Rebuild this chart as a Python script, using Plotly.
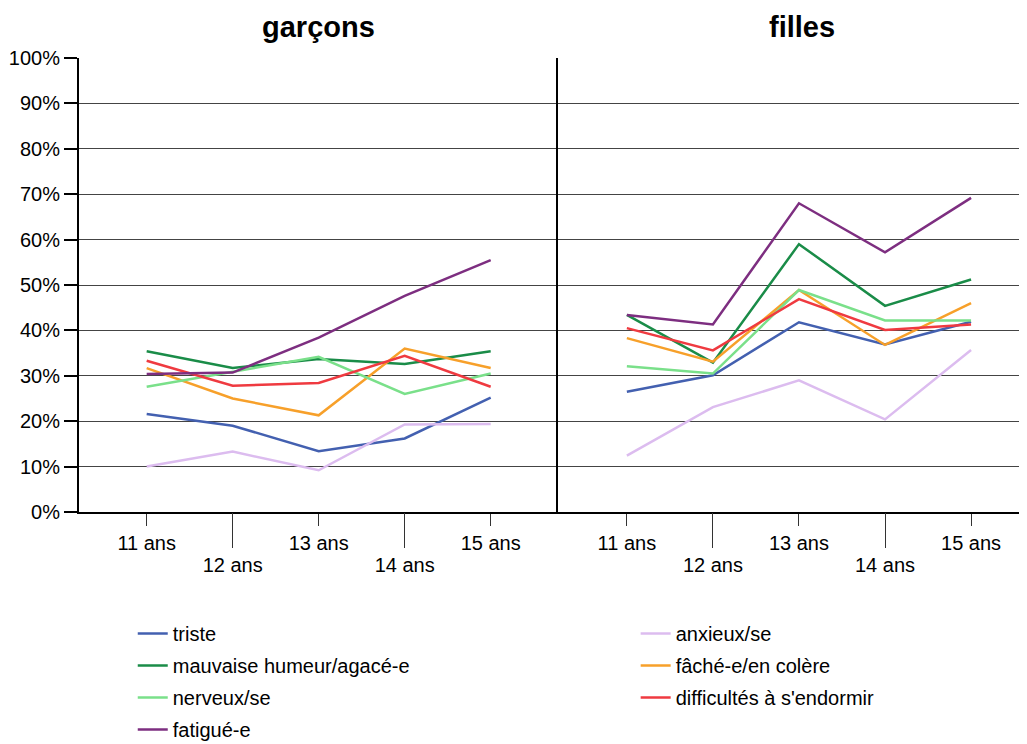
from plotly import graph_objects as go

ages = ["11 ans", "12 ans", "13 ans", "14 ans", "15 ans"]
panels = ["garçons", "filles"]
labels = ["triste", "anxieux/se", "mauvaise humeur/agacé-e", "fâché-e/en colère",
          "nerveux/se", "difficultés à s'endormir", "fatigué-e"]
colors = ["#4360b0", "#dcbcef", "#1a8c48", "#f7a02a", "#7ae08a", "#ef3a40", "#7d2e80"]

# garçons, % par âge
garcons_triste = [21.6, 19.0, 13.4, 16.2, 25.2]
garcons_anxieux = [10.0, 13.3, 9.2, 19.3, 19.4]
garcons_mauvaise = [35.4, 31.7, 33.7, 32.6, 35.4]
garcons_fache = [31.7, 25.0, 21.3, 36.0, 31.7]
garcons_nerveux = [27.6, 30.9, 34.2, 26.0, 30.5]
garcons_difficultes = [33.3, 27.8, 28.4, 34.4, 27.6]
garcons_fatigue = [30.4, 30.7, 38.4, 47.6, 55.5]

# filles, % par âge
filles_triste = [26.5, 30.1, 41.8, 36.9, 41.9]
filles_anxieux = [12.4, 23.1, 29.0, 20.4, 35.7]
filles_mauvaise = [43.4, 32.9, 59.0, 45.4, 51.2]
filles_fache = [38.3, 33.1, 48.9, 36.8, 46.0]
filles_nerveux = [32.1, 30.5, 48.9, 42.2, 42.2]
filles_difficultes = [40.5, 35.6, 46.9, 40.1, 41.3]
filles_fatigue = [43.4, 41.3, 68.0, 57.2, 69.2]

garcons = [garcons_triste, garcons_anxieux, garcons_mauvaise, garcons_fache,
           garcons_nerveux, garcons_difficultes, garcons_fatigue]
filles = [filles_triste, filles_anxieux, filles_mauvaise, filles_fache,
          filles_nerveux, filles_difficultes, filles_fatigue]

pos = list(range(len(ages)))
short_pos = pos[0::2]
long_pos = pos[1::2]

fig = go.Figure()
for i, name in enumerate(labels):
    # legend in two columns: even entries left, odd entries right
    leg = "legend" if i % 2 == 0 else "legend2"
    fig.add_trace(go.Scatter(x=pos, y=garcons[i], mode="lines", name=name,
                             line=dict(color=colors[i], width=2.5),
                             xaxis="x", yaxis="y", legend=leg, legendgroup=name))
    fig.add_trace(go.Scatter(x=pos, y=filles[i], mode="lines", name=name,
                             line=dict(color=colors[i], width=2.5),
                             xaxis="x2", yaxis="y2", legendgroup=name, showlegend=False))

# empty traces so the overlay axes (long ticks for 12 / 14 ans) get drawn
for xa, ya in [("x3", "y"), ("x4", "y2")]:
    fig.add_trace(go.Scatter(x=long_pos, y=[None] * len(long_pos), xaxis=xa, yaxis=ya,
                             mode="lines", showlegend=False, hoverinfo="skip"))

tick_font = dict(family="Liberation Sans, Arial", size=20, color="black")
legend_font = dict(family="Liberation Sans, Arial", size=20, color="black")
split = 0.5053
left_range = [-0.787, 4.783]
right_range = [-0.80, 4.65]


def x_axis(domain, rng, vals, ticklen, overlay=None, line=True):
    ax = dict(domain=domain, range=rng, tickmode="array", tickvals=vals,
              ticktext=[ages[v] for v in vals], ticks="outside", ticklen=ticklen,
              tickwidth=1, tickcolor="#333", tickfont=tick_font, showgrid=False,
              zeroline=False, showline=line, linecolor="black", linewidth=2,
              fixedrange=True)
    if overlay:
        ax["overlaying"] = overlay
    return ax


fig.update_layout(
    width=1027, height=744,
    margin=dict(l=71, r=8, t=50, b=240, autoexpand=False),
    paper_bgcolor="white", plot_bgcolor="white",
    font=dict(family="Liberation Sans, Arial", color="black"),
    xaxis=x_axis([0, split], left_range, short_pos, 12),
    xaxis2=dict(x_axis([split, 1], right_range, short_pos, 12), anchor="y2"),
    xaxis3=dict(x_axis([0, split], left_range, long_pos, 35, overlay="x", line=False), anchor="y"),
    xaxis4=dict(x_axis([split, 1], right_range, long_pos, 35, overlay="x2", line=False), anchor="y2"),
    yaxis=dict(range=[0, 100], dtick=10, ticksuffix="%", ticks="outside", ticklen=13,
               tickwidth=2, tickcolor="black", tickfont=tick_font, showline=True,
               linecolor="black", linewidth=2, gridcolor="#444", gridwidth=1,
               zeroline=False, fixedrange=True),
    yaxis2=dict(range=[0, 100], dtick=10, anchor="x2", showticklabels=False, ticks="",
                showline=True, linecolor="black", linewidth=2, gridcolor="#444",
                gridwidth=1, zeroline=False, fixedrange=True),
    legend=dict(x=0.0567, xanchor="left", y=-0.2247, yanchor="top", tracegroupgap=3,
                font=legend_font, bgcolor="rgba(0,0,0,0)"),
    legend2=dict(x=0.5872, xanchor="left", y=-0.2247, yanchor="top", tracegroupgap=3,
                 font=legend_font, bgcolor="rgba(0,0,0,0)"),
    showlegend=True,
)

for name, cx in zip(panels, [split / 2, 0.7627]):
    fig.add_annotation(text="<b>%s</b>" % name, x=cx, y=1, xref="paper", yref="paper",
                       xanchor="center", yanchor="bottom", yshift=13, showarrow=False,
                       font=dict(family="Liberation Sans, Arial", size=29, color="black"))

fig.write_html("out.html")
